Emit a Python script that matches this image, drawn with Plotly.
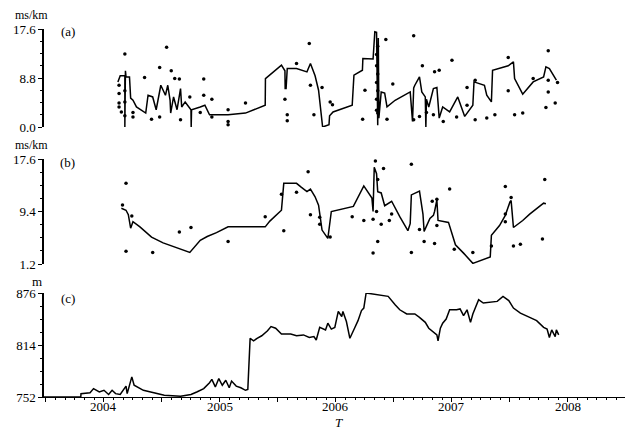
import plotly.graph_objects as go
from plotly.subplots import make_subplots

# (a) line, ms/km
a_year = [2004.12, 2004.14, 2004.18, 2004.18, 2004.185, 2004.19, 2004.22, 2004.23, 2004.25, 2004.28,
          2004.36, 2004.38, 2004.42, 2004.45, 2004.49, 2004.53, 2004.55, 2004.57, 2004.575, 2004.60,
          2004.63, 2004.66, 2004.67, 2004.70, 2004.75, 2004.752, 2004.755, 2004.83, 2004.87, 2004.91,
          2005.07, 2005.22, 2005.39, 2005.392, 2005.53, 2005.56, 2005.562, 2005.57, 2005.58, 2005.66,
          2005.75, 2005.78, 2005.82, 2005.85, 2005.885, 2005.94, 2005.945, 2005.975, 2006.14, 2006.155,
          2006.228, 2006.232, 2006.32, 2006.335, 2006.35, 2006.36, 2006.365, 2006.37, 2006.39, 2006.42,
          2006.44, 2006.51, 2006.64, 2006.66, 2006.67, 2006.68, 2006.72, 2006.74, 2006.77, 2006.775,
          2006.78, 2006.80, 2006.84, 2006.87, 2006.89, 2006.92, 2006.98, 2007.05, 2007.11, 2007.18,
          2007.19, 2007.28, 2007.30, 2007.34, 2007.35, 2007.485, 2007.53, 2007.54, 2007.61, 2007.70,
          2007.79, 2007.81, 2007.84, 2007.90]
a_val = [8.1, 9.2, 9.2, 0.0, 10.1, 9.0, 9.0, 5.2, 4.8, 3.6,
         2.5, 5.7, 5.4, 3.1, 7.5, 5.7, 7.5, 4.8, 2.5, 5.4,
         3.1, 6.9, 3.6, 4.5, 3.1, 0.0, 3.1, 3.6, 3.9, 2.2,
         2.2, 2.5, 3.9, 8.7, 11.1, 10.1, 6.9, 6.9, 10.5, 10.5,
         9.9, 11.4, 9.2, 6.6, 0.0, 0.4, 2.0, 2.7, 3.9, 9.3,
         10.2, 12.3, 12.2, 17.1, 17.0, 0.3, 16.0, 1.6, 6.3, 6.1,
         3.6, 4.8, 6.3, 1.0, 7.0, 7.5, 9.0, 6.3, 5.4, 0.0,
         5.0, 3.6, 6.9, 7.1, 1.6, 3.6, 2.7, 5.4, 1.9, 3.9,
         8.1, 7.5, 5.7, 4.5, 10.2, 11.0, 11.7, 8.7, 5.9, 8.1,
         9.0, 10.8, 10.5, 8.4]

# (a) scattered points
a_dot_year = [2004.18, 2004.54, 2004.48, 2004.58, 2004.61, 2004.65, 2004.35, 2004.13, 2004.13, 2004.15,
              2004.25, 2004.25, 2004.41, 2004.48, 2004.66, 2004.74, 2004.83, 2004.86, 2004.86, 2004.93,
              2004.93, 2005.07, 2005.07, 2005.07, 2005.22, 2005.56, 2005.58, 2005.58, 2005.66, 2005.77,
              2005.78, 2005.81, 2005.88, 2005.95, 2005.97, 2006.23, 2006.25, 2006.23, 2006.43, 2006.49,
              2006.44, 2006.67, 2006.745, 2006.85, 2006.89, 2007.00, 2006.67, 2006.72, 2006.78, 2006.84,
              2006.925, 2007.04, 2007.13, 2007.13, 2007.20, 2007.20, 2007.30, 2007.37, 2007.485, 2007.485,
              2007.54, 2007.61, 2007.70, 2007.83, 2007.83, 2007.83, 2007.81, 2007.89, 2007.91,
              2006.35, 2006.35, 2006.35, 2006.35, 2006.35, 2006.36, 2006.36, 2006.36, 2006.36,
              2004.13, 2004.13, 2004.18, 2004.18, 2004.18]
a_dot_val = [13.1, 14.3, 10.7, 10.1, 8.7, 8.6, 8.9, 4.3, 3.6, 2.7,
             2.6, 1.8, 1.4, 1.8, 1.3, 5.4, 2.6, 8.6, 5.7, 5.0,
             1.8, 3.1, 1.0, 0.4, 4.3, 5.0, 2.2, 1.1, 11.4, 15.0,
             7.5, 2.2, 7.1, 4.5, 4.0, 17.7, 6.6, 1.4, 15.7, 7.7,
             1.4, 16.4, 11.0, 9.9, 10.2, 12.0, 1.3, 1.9, 2.6, 2.2,
             1.0, 1.8, 7.1, 3.9, 8.4, 1.3, 1.6, 2.2, 12.5, 6.5,
             2.2, 2.5, 8.7, 13.7, 8.4, 6.3, 3.5, 4.3, 8.0,
             13.0, 11.0, 8.0, 5.0, 3.0, 14.5, 9.5, 6.5, 2.5,
             7.5, 6.0, 6.5, 4.5, 2.0]

# (b) line, ms/km
b_year = [2004.15, 2004.19, 2004.21, 2004.23, 2004.25, 2004.31, 2004.41, 2004.51, 2004.74, 2004.83,
          2004.89, 2004.97, 2005.07, 2005.39, 2005.43, 2005.48, 2005.53, 2005.55, 2005.66, 2005.70,
          2005.75, 2005.78, 2005.82, 2005.85, 2005.88, 2005.93, 2005.96, 2006.15, 2006.24, 2006.31,
          2006.32, 2006.33, 2006.35, 2006.36, 2006.39, 2006.42, 2006.48, 2006.55, 2006.62, 2006.64,
          2006.65, 2006.72, 2006.75, 2006.76, 2006.81, 2006.84, 2006.85, 2006.87, 2006.88, 2006.97,
          2007.03, 2007.10, 2007.18, 2007.33, 2007.34, 2007.41, 2007.46, 2007.50, 2007.51, 2007.53,
          2007.61, 2007.67, 2007.79, 2007.81]
b_val = [9.9, 9.6, 8.9, 6.8, 7.8, 7.0, 5.4, 4.5, 3.0, 4.9,
         5.5, 6.1, 7.0, 7.0, 7.9, 8.7, 9.6, 13.8, 13.8, 13.2,
         12.5, 12.9, 11.7, 10.4, 6.5, 5.2, 9.4, 10.2, 13.4, 11.5,
         9.4, 16.3, 15.3, 12.5, 12.3, 10.3, 11.0, 8.6, 6.4, 7.5,
         12.0, 12.6, 9.0, 6.3, 8.3, 8.8, 9.4, 11.2, 8.0, 7.7,
         4.2, 2.9, 1.3, 2.3, 5.7, 7.2, 8.8, 10.9, 11.1, 6.9,
         8.0, 9.0, 10.7, 10.6]

# (b) scattered points
b_dot_year = [2004.16, 2004.19, 2004.24, 2004.19, 2004.42, 2004.65, 2004.75, 2005.07, 2005.39, 2005.53,
              2005.55, 2005.66, 2005.76, 2005.78, 2005.86, 2005.86, 2005.95, 2006.14, 2006.22, 2006.24,
              2006.32, 2006.34, 2006.36, 2006.35, 2006.36, 2006.32, 2006.39, 2006.41, 2006.46, 2006.48,
              2006.65, 2006.65, 2006.72, 2006.76, 2006.83, 2006.85, 2006.87, 2006.87, 2006.98, 2007.02,
              2007.18, 2007.34, 2007.46, 2007.46, 2007.46, 2007.51, 2007.53, 2007.59, 2007.78, 2007.80]
b_dot_val = [10.4, 13.8, 8.7, 3.2, 3.0, 6.2, 6.9, 4.7, 8.6, 12.1,
             6.4, 12.4, 15.6, 8.9, 7.4, 8.5, 5.4, 8.6, 17.9, 8.0,
             8.2, 17.3, 14.4, 9.4, 4.7, 2.9, 7.4, 16.1, 8.0, 9.0,
             16.8, 3.0, 6.6, 4.7, 11.0, 4.4, 11.3, 7.2, 12.9, 3.5,
             3.0, 4.0, 13.3, 9.0, 7.8, 11.6, 4.0, 4.3, 5.1, 14.4]

# (c) water level, m
c_year = [2003.483, 2003.80, 2003.802, 2003.88, 2003.91, 2003.96, 2004.00, 2004.04, 2004.07, 2004.10,
          2004.14, 2004.19, 2004.20, 2004.24, 2004.26, 2004.34, 2004.43, 2004.52, 2004.66, 2004.75,
          2004.80, 2004.86, 2004.91, 2004.93, 2004.96, 2004.99, 2005.02, 2005.05, 2005.08, 2005.10,
          2005.14, 2005.18, 2005.22, 2005.24, 2005.26, 2005.29, 2005.32, 2005.36, 2005.41, 2005.44,
          2005.48, 2005.53, 2005.61, 2005.66, 2005.72, 2005.77, 2005.81, 2005.83, 2005.86, 2005.91,
          2005.93, 2005.96, 2005.99, 2006.02, 2006.05, 2006.06, 2006.09, 2006.12, 2006.16, 2006.19,
          2006.22, 2006.24, 2006.26, 2006.32, 2006.41, 2006.45, 2006.51, 2006.55, 2006.61, 2006.68,
          2006.72, 2006.77, 2006.80, 2006.84, 2006.87, 2006.88, 2006.90, 2006.92, 2006.95, 2006.98,
          2007.04, 2007.07, 2007.10, 2007.13, 2007.16, 2007.18, 2007.23, 2007.27, 2007.33, 2007.39,
          2007.44, 2007.49, 2007.53, 2007.59, 2007.67, 2007.73, 2007.79, 2007.82, 2007.84, 2007.86,
          2007.89, 2007.90, 2007.92]
c_val = [752, 752, 756, 757, 762, 758, 760, 755, 760, 756,
         755, 765, 756, 776, 766, 760, 757, 754, 753, 755,
         758, 762, 769, 773, 764, 774, 766, 772, 763, 771,
         765, 763, 760, 761, 822, 819, 822, 825, 831, 836,
         834, 827, 827, 825, 826, 823, 824, 820, 835, 832,
         840, 833, 835, 854, 848, 854, 842, 822, 834, 843,
         855, 858, 876, 875, 873, 872, 862, 856, 851, 851,
         847, 841, 834, 829, 826, 819, 834, 840, 845, 856,
         856, 857, 849, 856, 841, 851, 868, 864, 865, 866,
         872, 867, 858, 852, 847, 843, 835, 833, 823, 832,
         824, 832, 826]

year_ticks = [2003.5, 2004, 2004.5, 2005, 2005.5, 2006, 2006.5, 2007, 2007.5, 2008, 2008.5]
year_labels = [2004, 2005, 2006, 2007, 2008]

serif = "'Liberation Serif', 'Times New Roman', serif"

fig = make_subplots(rows=3, cols=1, shared_xaxes=True, vertical_spacing=0.05)

line_style = dict(color="black", width=1.5)
dot_style = dict(color="black", size=3.5)

fig.add_trace(go.Scatter(x=a_year, y=a_val, mode="lines", line=line_style), row=1, col=1)
fig.add_trace(go.Scatter(x=a_dot_year, y=a_dot_val, mode="markers", marker=dot_style, cliponaxis=False), row=1, col=1)
fig.add_trace(go.Scatter(x=b_year, y=b_val, mode="lines", line=line_style), row=2, col=1)
fig.add_trace(go.Scatter(x=b_dot_year, y=b_dot_val, mode="markers", marker=dot_style, cliponaxis=False), row=2, col=1)
fig.add_trace(go.Scatter(x=c_year, y=c_val, mode="lines", line=line_style), row=3, col=1)

# the page body adds an 8px margin, so the figure is 8px smaller
fig.update_layout(
    width=625, height=424,
    margin=dict(l=36, r=6, t=21, b=35),
    paper_bgcolor="white", plot_bgcolor="white",
    showlegend=False,
    font=dict(family=serif, size=13, color="black"),
)

# x axes: only the bottom one is drawn
fig.update_xaxes(range=[2003.483, 2008.509], showgrid=False, zeroline=False,
                 showline=False, showticklabels=False, ticks="")
fig.update_xaxes(showline=True, linecolor="black", linewidth=1.2,
                 tickmode="array", tickvals=year_ticks, showticklabels=False,
                 ticks="outside", ticklen=4, tickcolor="black",
                 minor=dict(dtick=1 / 12, tick0=2004, ticks="outside", ticklen=2, tickcolor="black"),
                 row=3, col=1)

yaxis_common = dict(showgrid=False, zeroline=False, showline=True, linecolor="black", linewidth=1.5,
                    ticks="outside", ticklen=4, tickcolor="black", tickmode="array")
fig.update_yaxes(domain=[0.7337, 1.0], range=[0, 17.6], tickvals=[0, 8.8, 17.6],
                 ticktext=["0.0", "8.8", "17.6"],
                 minor=dict(dtick=2.2, tick0=0, ticks="outside", ticklen=2, tickcolor="black"),
                 row=1, col=1, **yaxis_common)
fig.update_yaxes(domain=[0.3614, 0.6467], range=[1.2, 17.6], tickvals=[1.2, 9.4, 17.6],
                 ticktext=["1.2", "9.4", "17.6"],
                 minor=dict(dtick=2.05, tick0=1.2, ticks="outside", ticklen=2, tickcolor="black"),
                 row=2, col=1, **yaxis_common)
fig.update_yaxes(domain=[0.0, 0.2826], range=[752, 876], tickvals=[752, 814, 876],
                 minor=dict(dtick=15.5, tick0=752, ticks="outside", ticklen=2, tickcolor="black"),
                 row=3, col=1, **yaxis_common)

# year labels sit closer to the axis than plotly's tick labels would
for yr in year_labels:
    fig.add_annotation(text=str(yr), x=yr, y=-0.027, xref="x3", yref="paper",
                       xanchor="center", yanchor="middle", showarrow=False,
                       font=dict(family=serif, size=13, color="black"))

labels = [
    ("ms/km", -0.021, 1.038, 12), ("(a)", 0.041, 0.992, 13),
    ("ms/km", -0.021, 0.685, 12), ("(b)", 0.040, 0.636, 13),
    ("m", -0.012, 0.315, 13), ("(c)", 0.041, 0.269, 13),
    ("<i>T</i>", 0.506, -0.068, 13),
]
for text, x, y, size in labels:
    fig.add_annotation(text=text, x=x, y=y, xref="paper", yref="paper",
                       xanchor="center", yanchor="middle", showarrow=False,
                       font=dict(family=serif, size=size, color="black"))

fig.write_html("out.html")
